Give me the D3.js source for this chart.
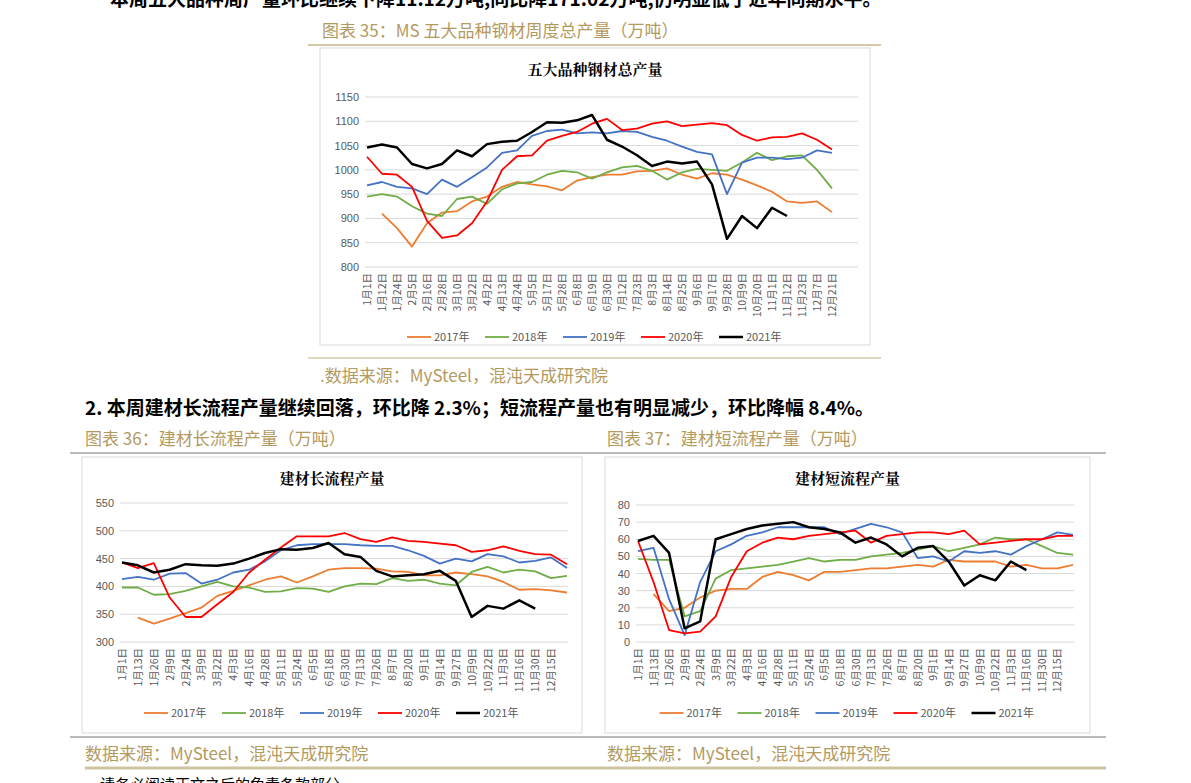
<!DOCTYPE html>
<html><head><meta charset="utf-8">
<script src="https://cdn.jsdelivr.net/npm/d3@7"></script>
<style>body{margin:0;background:#fff;font-family:"Noto Sans CJK SC",sans-serif}</style>
</head><body><svg id="page" width="1191" height="783"></svg>
<script>
// series colours
var colors = {"2017年":"#ed7d31","2018年":"#70ad47","2019年":"#4472c4","2020年":"#ff0000","2021年":"#000000"};
var years = ["2017年","2018年","2019年","2020年","2021年"];

// chart 35 : 五大品种钢材总产量
var labels35 = ["1月1日","1月12日","1月24日","2月5日","2月16日","2月28日","3月10日","3月22日","4月2日","4月13日","4月24日","5月5日","5月17日","5月28日","6月8日","6月19日","6月30日","7月12日","7月23日","8月3日","8月14日","8月25日","9月6日","9月17日","9月28日","10月9日","10月20日","11月1日","11月12日","11月23日","12月7日","12月21日"];
var total2017 = [null,910,880,842,890,912,915,935,945,965,975,970,966,958,978,985,990,990,997,998,1003,990,982,993,990,980,968,955,935,932,935,913];
var total2018 = [945,950,945,925,910,905,940,945,930,960,972,975,990,998,995,982,995,1005,1008,998,980,995,1002,1000,998,1015,1035,1020,1028,1030,1000,962];
var total2019 = [968,975,965,962,950,980,965,985,1005,1035,1040,1070,1080,1083,1075,1077,1075,1080,1078,1068,1060,1048,1037,1032,950,1015,1025,1025,1022,1025,1040,1035];
var total2020 = [1027,992,990,965,895,860,865,890,935,1000,1028,1030,1060,1070,1078,1095,1105,1082,1085,1095,1100,1090,1093,1096,1092,1072,1060,1067,1068,1075,1062,1042];
var total2021 = [1046,1052,1046,1012,1003,1012,1040,1028,1053,1058,1060,1078,1098,1097,1102,1113,1062,1048,1030,1008,1017,1013,1017,970,858,905,880,922,905,null,null,null];
var ticks35 = [800,850,900,950,1000,1050,1100,1150];

// chart 36 / 37 : 建材长流程 / 短流程
var labelsJc = ["1月1日","1月13日","1月26日","2月9日","2月24日","3月9日","3月22日","4月3日","4月16日","4月28日","5月11日","5月24日","6月5日","6月18日","6月30日","7月13日","7月26日","8月7日","8月20日","9月1日","9月14日","9月27日","10月9日","10月22日","11月3日","11月16日","11月30日","12月15日",""];
var long2017 = [null,344,333,342,352,362,383,392,402,412,418,407,418,430,433,433,432,427,426,420,420,425,422,418,408,394,395,393,389];
var long2018 = [398,398,385,386,392,400,408,400,398,390,391,397,396,390,400,405,404,415,410,412,405,402,426,435,425,430,427,415,419];
var long2019 = [413,417,412,423,424,405,412,425,430,445,465,474,476,476,476,474,473,473,465,455,441,450,445,458,454,443,446,452,433];
var long2020 = [443,433,442,380,345,345,368,390,425,448,470,490,490,490,496,485,480,488,482,480,477,474,462,465,472,464,458,457,440];
var long2021 = [443,438,425,430,440,438,437,441,450,460,467,466,469,478,458,453,428,418,420,422,428,410,345,365,360,375,360,null,null];
var ticksLong = [300,350,400,450,500,550];

var short2017 = [null,28,18,20,26,30,31,31,38,41,39,36,41,41,42,43,43,44,45,44,48,47,47,47,44,45,43,43,45];
var short2018 = [48.5,48,48,15,18,37,42,43,44,45,47,49,47,48,48,50,51,52,54,56,53,55,57,61,60,60,56,52,51];
var short2019 = [53,55,25,4,35,53,57,62,64,67,67,67,67,63,66,69,67,64,49,50,47,53,52,53,51,56,60,64,62.5];
var short2020 = [59,35,7,5,6,15,38,53,58,61,60,62,63,64,65,58,62,63,64,64,63,65,57,58,59,60,60,62,62];
var short2021 = [59,62,52,8,12,60,63,66,68,69,70,67,66,64,58,61,57,50,55,56,47,33,39,36,47,42,null,null,null];
var ticksShort = [0,10,20,30,40,50,60,70,80];

var svg = d3.select("#page");
var gold = "#b39a5f";

function txt(x, y, s, opt) {
  opt = opt || {};
  svg.append("text").attr("x", x).attr("y", y).text(s)
    .attr("font-size", opt.size || 17).attr("fill", opt.fill || "#000")
    .attr("font-weight", opt.weight || "normal")
    .attr("font-family", opt.family || "Noto Sans CJK SC");
}
function hline(x1, x2, y, color, w) {
  svg.append("line").attr("x1", x1).attr("x2", x2).attr("y1", y).attr("y2", y)
    .attr("stroke", color).attr("stroke-width", w);
}

// page text
txt(110, 6, "本周五大品种周产量环比继续下降11.12万吨,同比降171.02万吨,仍明显低于近年同期水平。", {size:19, weight:"bold"});
txt(322, 37, "图表 35：MS 五大品种钢材周度总产量（万吨）", {fill:gold});
hline(308, 881, 45, "#d4c8a6", 2);
hline(308, 881, 358, "#d4c8a6", 1.5);
txt(320, 382, ".数据来源：MySteel，混沌天成研究院", {fill:gold});
txt(85, 415, "2.  本周建材长流程产量继续回落，环比降 2.3%；短流程产量也有明显减少，环比降幅 8.4%。", {size:19, weight:"bold"});
txt(85, 445, "图表 36：建材长流程产量（万吨）", {fill:gold});
txt(607, 445, "图表 37：建材短流程产量（万吨）", {fill:gold});
hline(70, 1106, 453, "#777", 1);
hline(70, 1106, 737, "#777", 1);
txt(85, 760, "数据来源：MySteel，混沌天成研究院", {fill:gold});
txt(607, 760, "数据来源：MySteel，混沌天成研究院", {fill:gold});
hline(85, 1106, 768, "#cfc3a0", 3);
txt(100, 790, "请务必阅读正文之后的免责条款部分", {size:15});

function drawChart(box, title, labels, series, ticks, plot, legendY) {
  svg.append("rect").attr("x", box[0]).attr("y", box[1]).attr("width", box[2]).attr("height", box[3])
    .attr("fill", "#fff").attr("stroke", "#d9d9d9");
  svg.append("text").attr("x", box[0] + box[2] / 2).attr("y", box[1] + 27).attr("text-anchor", "middle")
    .attr("font-size", 15).attr("font-weight", "bold").attr("font-family", "Noto Serif CJK SC, Noto Sans CJK SC")
    .text(title);
  var x = d3.scaleLinear().domain([0, labels.length - 1]).range([plot.x0, plot.x1]);
  var y = d3.scaleLinear().domain([ticks[0], ticks[ticks.length - 1]]).range([plot.y1, plot.y0]);
  var g = svg.append("g");
  g.selectAll(".grid").data(ticks).enter().append("line")
    .attr("x1", plot.gx0).attr("x2", plot.gx1).attr("y1", y).attr("y2", y)
    .attr("stroke", "#d9d9d9");
  g.selectAll(".yl").data(ticks).enter().append("text")
    .attr("x", plot.gx0 - 6).attr("y", function(d){ return y(d) + 4; }).attr("text-anchor", "end")
    .attr("font-size", 11).attr("fill", "#595959").attr("font-family", "Liberation Sans").text(function(d){ return d; });
  g.selectAll(".xl").data(labels).enter().append("text")
    .attr("transform", function(d, i){ return "translate(" + (x(i) + 4) + "," + (plot.y1 + 6) + ") rotate(-90)"; })
    .attr("text-anchor", "end").attr("font-size", 10.5).attr("fill", "#595959").text(function(d){ return d; });
  var line = d3.line().defined(function(d){ return d != null; })
    .x(function(d, i){ return x(i); }).y(function(d){ return y(d); });
  years.forEach(function(yr, k) {
    g.append("path").datum(series[k]).attr("d", line).attr("fill", "none")
      .attr("stroke", colors[yr]).attr("stroke-width", yr == "2021年" ? 2.5 : 1.8)
      .attr("stroke-linejoin", "round");
  });
  // legend
  var cx = box[0] + box[2] / 2, step = 78, start = cx - step * 2 - 20;
  years.forEach(function(yr, k) {
    var lx = start + k * step;
    g.append("line").attr("x1", lx - 12).attr("x2", lx + 12).attr("y1", legendY).attr("y2", legendY)
      .attr("stroke", colors[yr]).attr("stroke-width", yr == "2021年" ? 2.5 : 1.8);
    g.append("text").attr("x", lx + 15).attr("y", legendY + 4).attr("font-size", 11)
      .attr("fill", "#595959").text(yr);
  });
}

drawChart([320, 48, 550, 297], "五大品种钢材总产量", labels35,
  [total2017, total2018, total2019, total2020, total2021], ticks35,
  {x0:367, x1:832, y0:97, y1:267, gx0:365, gx1:858}, 337);
drawChart([82, 457, 500, 276], "建材长流程产量", labelsJc,
  [long2017, long2018, long2019, long2020, long2021], ticksLong,
  {x0:122, x1:567, y0:503, y1:642, gx0:120, gx1:568}, 713);
drawChart([605, 457, 485, 276], "建材短流程产量", labelsJc,
  [short2017, short2018, short2019, short2020, short2021], ticksShort,
  {x0:638, x1:1073, y0:505, y1:642, gx0:636, gx1:1074}, 713);
</script></body></html>
